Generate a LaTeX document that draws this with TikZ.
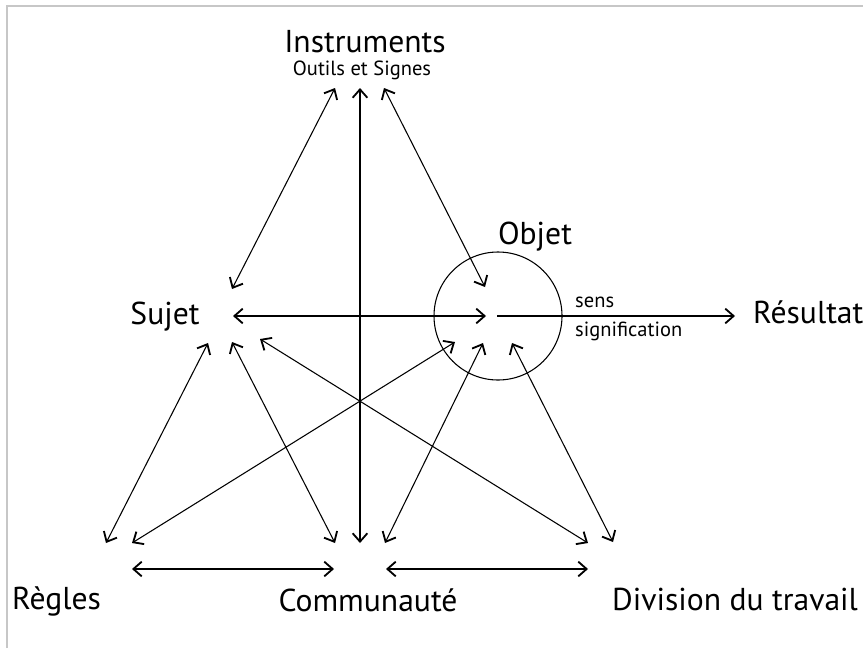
\documentclass[tikz,border=0pt]{standalone}
\usepackage{fontspec}
\setmainfont{PT Sans}
\usetikzlibrary{arrows.meta}

\tikzset{
  big/.style={font=\fontsize{27}{30}\selectfont},
  small/.style={font=\fontsize{17.5}{20}\selectfont},
  link/.style={<->, line width=0.32mm},
}

\begin{document}
\begin{tikzpicture}[x=0.3mm, y=-0.3mm, >={Straight Barb[length=2.5mm,width=4.4mm,line width=0.55mm]}]
        \useasboundingbox (0,0) rectangle (863,648);
        \draw[black!22, line width=0.6mm] (7,648) -- (7,6) -- (863,6);

        % labels
        \node[big, anchor=base] (Inst) at (365,53) {Instruments};
        \node[small, anchor=base] (Outils) at (362,76) {Outils et Signes};
        \node[big, anchor=base] (Sujet) at (165,324) {Sujet};
        \node[big, anchor=base] (Objet) at (535,244) {Objet};
        \node[big, anchor=base west, inner sep=0] (Res) at (753,323) {Résultat};
        \node[small, anchor=base west, inner sep=0] (Sens) at (575,307) {sens};
        \node[small, anchor=base west, inner sep=0] (Signif) at (575,336) {signification};
        \node[big, anchor=base west, inner sep=0] (Regles) at (12,609) {Règles};
        \node[big, anchor=base] (Comm) at (368,611) {Communauté};
        \node[big, anchor=base west, inner sep=0] (Div) at (612,610) {Division du travail};
        \node[shape=circle, draw, line width=0.32mm, minimum size=38.4mm, inner sep=0] (Circ) at (498,316) {};

        % arrow ends
        \coordinate (I1) at (335,88);
        \coordinate (I2) at (360,88);
        \coordinate (I3) at (384,88);
        \coordinate (S1) at (232,289);
        \coordinate (S2) at (233,316);
        \coordinate (S3) at (208,343);
        \coordinate (S4) at (232,342);
        \coordinate (S5) at (260,339);
        \coordinate (O1) at (485,287);
        \coordinate (O2) at (486,316);
        \coordinate (O3) at (455,342);
        \coordinate (O4) at (483,343);
        \coordinate (O5) at (512,343);
        \coordinate (O6) at (497,316);
        \coordinate (R0) at (735,316);
        \coordinate (G1) at (106,543);
        \coordinate (G2) at (132,543);
        \coordinate (C1) at (335,543);
        \coordinate (C2) at (360,543);
        \coordinate (C3) at (385,543);
        \coordinate (D1) at (588,543);
        \coordinate (D2) at (613,542);
        \coordinate (H1) at (132,569);
        \coordinate (H2) at (334,569);
        \coordinate (H3) at (386,569);
        \coordinate (H4) at (588,569);

        \draw[link] (I1) to (S1);
        \draw[link] (I2) to (C2);
        \draw[link] (I3) to (O1);
        \draw[link] (S2) to (O2);
        \draw[->, line width=0.32mm] (O6) to (R0);
        \draw[link] (S3) to (G1);
        \draw[link] (S4) to (C1);
        \draw[link] (S5) to (D1);
        \draw[link] (O3) to (G2);
        \draw[link] (O4) to (C3);
        \draw[link] (O5) to (D2);
        \draw[link] (H1) to (H2);
        \draw[link] (H3) to (H4);
    \end{tikzpicture}
\end{document}
